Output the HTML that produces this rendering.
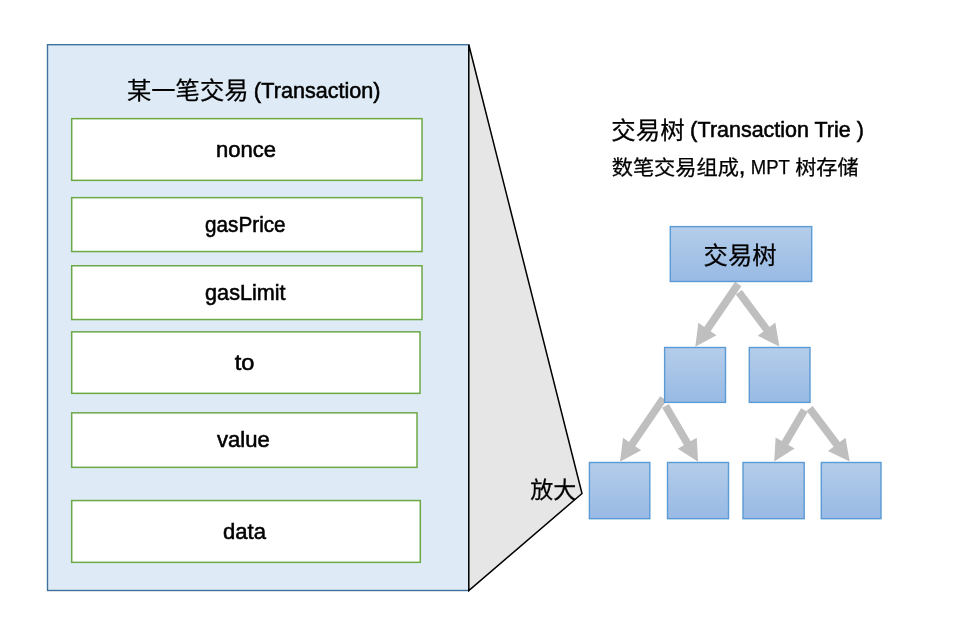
<!DOCTYPE html>
<html lang="zh-CN">
<head>
<meta charset="utf-8">
<title>交易树 (Transaction Trie)</title>
<style>
html,body{margin:0;padding:0;background:#fff;}
body{width:974px;height:625px;overflow:hidden;}
svg{display:block;will-change:transform;}
text{font-family:"Liberation Sans", "Noto Sans CJK SC", sans-serif;fill:#000;stroke:#000;stroke-width:0.25px;}
.lat{font-size:22px;stroke-width:0.55px;}
.cjk{font-size:24px;}
</style>
</head>
<body>
<svg width="974" height="625" viewBox="0 0 974 625">
<defs>
<linearGradient id="bg" x1="0" y1="0" x2="0" y2="1">
<stop offset="0" stop-color="#b4cdea"/>
<stop offset="0.5" stop-color="#a6c3e7"/>
<stop offset="1" stop-color="#98bae4"/>
</linearGradient>
</defs>
<rect x="0" y="0" width="974" height="625" fill="#ffffff"/>
<rect x="47.5" y="44.7" width="421.3" height="545.8" fill="#deebf7" stroke="#41719c" stroke-width="1.4"/>
<polygon points="468.8,44.7 582,493.5 468.8,590.5" fill="#e7e6e6" stroke="#000000" stroke-width="1.5" stroke-linejoin="miter"/>
<text class="cjk" x="127.0" y="98.8" textLength="121.5" lengthAdjust="spacingAndGlyphs">某一笔交易</text>
<text class="lat" x="253.8" y="98.4">(</text>
<text class="lat" x="261.3" y="98.4" textLength="119.2" lengthAdjust="spacingAndGlyphs">Transaction)</text>
<rect x="71.70" y="118.65" width="350.3" height="61.7" fill="#ffffff" stroke="#6ca845" stroke-width="1.5"/>
<text class="lat" x="216.1" y="156.7" textLength="60.0" lengthAdjust="spacingAndGlyphs">nonce</text>
<rect x="71.70" y="197.65" width="350.3" height="53.9" fill="#ffffff" stroke="#6ca845" stroke-width="1.5"/>
<text class="lat" x="205.1" y="232.0" textLength="80.5" lengthAdjust="spacingAndGlyphs">gasPrice</text>
<rect x="71.70" y="265.75" width="350.3" height="53.8" fill="#ffffff" stroke="#6ca845" stroke-width="1.5"/>
<text class="lat" x="205.1" y="299.7" textLength="80.5" lengthAdjust="spacingAndGlyphs">gasLimit</text>
<rect x="71.70" y="331.85" width="348.3" height="61.5" fill="#ffffff" stroke="#6ca845" stroke-width="1.5"/>
<text class="lat" x="234.7" y="369.5" textLength="19.7" lengthAdjust="spacingAndGlyphs">to</text>
<rect x="71.70" y="412.85" width="345.3" height="54.5" fill="#ffffff" stroke="#6ca845" stroke-width="1.5"/>
<text class="lat" x="217.0" y="447.1" textLength="52.8" lengthAdjust="spacingAndGlyphs">value</text>
<rect x="71.70" y="500.55" width="348.6" height="61.8" fill="#ffffff" stroke="#6ca845" stroke-width="1.5"/>
<text class="lat" x="223.1" y="538.5" textLength="42.9" lengthAdjust="spacingAndGlyphs">data</text>
<text class="cjk" x="611.3" y="139.2" textLength="73.3" lengthAdjust="spacingAndGlyphs">交易树</text>
<text class="lat" x="690.0" y="136.9">(</text>
<text class="lat" x="697.6" y="136.9" textLength="166.2" lengthAdjust="spacingAndGlyphs">Transaction Trie )</text>
<text x="611.7" y="174.9" font-size="20.6" textLength="127.2" lengthAdjust="spacingAndGlyphs">数笔交易组成</text>
<text x="738.6" y="173.8" font-size="26">,</text>
<text x="750.8" y="173.6" font-size="19.5" textLength="39.0" lengthAdjust="spacingAndGlyphs">MPT</text>
<text x="795.2" y="174.9" font-size="20.6" textLength="63.4" lengthAdjust="spacingAndGlyphs">树存储</text>
<polygon points="735.02,281.83 704.25,326.88 698.34,322.84 695.30,346.80 716.51,335.25 710.61,331.22 741.38,286.17" fill="#bfbfbf"/>
<polygon points="735.82,294.61 763.43,331.50 757.71,335.78 779.40,346.40 775.32,322.60 769.60,326.88 741.98,289.99" fill="#bfbfbf"/>
<polygon points="660.22,396.13 628.95,441.88 623.05,437.84 620.00,461.80 641.21,450.26 635.31,446.22 666.58,400.47" fill="#bfbfbf"/>
<polygon points="662.17,407.84 683.94,445.17 677.77,448.77 698.10,461.80 696.77,437.69 690.59,441.29 668.83,403.96" fill="#bfbfbf"/>
<polygon points="801.08,408.15 781.77,441.01 775.61,437.39 774.20,461.50 794.58,448.54 788.41,444.91 807.72,412.05" fill="#bfbfbf"/>
<polygon points="806.53,410.72 833.67,446.66 827.97,450.97 849.70,461.50 845.52,437.71 839.82,442.02 812.67,406.08" fill="#bfbfbf"/>
<rect x="670.3" y="226.6" width="141.4" height="54.9" fill="url(#bg)" stroke="#5b9bd5" stroke-width="1.4"/>
<rect x="664.6" y="347.5" width="60.9" height="54.9" fill="url(#bg)" stroke="#5b9bd5" stroke-width="1.4"/>
<rect x="749.3" y="347.5" width="60.7" height="54.9" fill="url(#bg)" stroke="#5b9bd5" stroke-width="1.4"/>
<rect x="589.4" y="462.5" width="60.4" height="56.2" fill="url(#bg)" stroke="#5b9bd5" stroke-width="1.4"/>
<rect x="667.5" y="462.5" width="61.0" height="56.2" fill="url(#bg)" stroke="#5b9bd5" stroke-width="1.4"/>
<rect x="743.0" y="462.5" width="61.2" height="56.2" fill="url(#bg)" stroke="#5b9bd5" stroke-width="1.4"/>
<rect x="821.3" y="462.5" width="59.7" height="56.2" fill="url(#bg)" stroke="#5b9bd5" stroke-width="1.4"/>
<text class="cjk" x="703.6" y="263.7" textLength="73" lengthAdjust="spacingAndGlyphs">交易树</text>
<text x="530.3" y="498.3" font-size="23" textLength="46" lengthAdjust="spacingAndGlyphs">放大</text>
</svg>
</body>
</html>
